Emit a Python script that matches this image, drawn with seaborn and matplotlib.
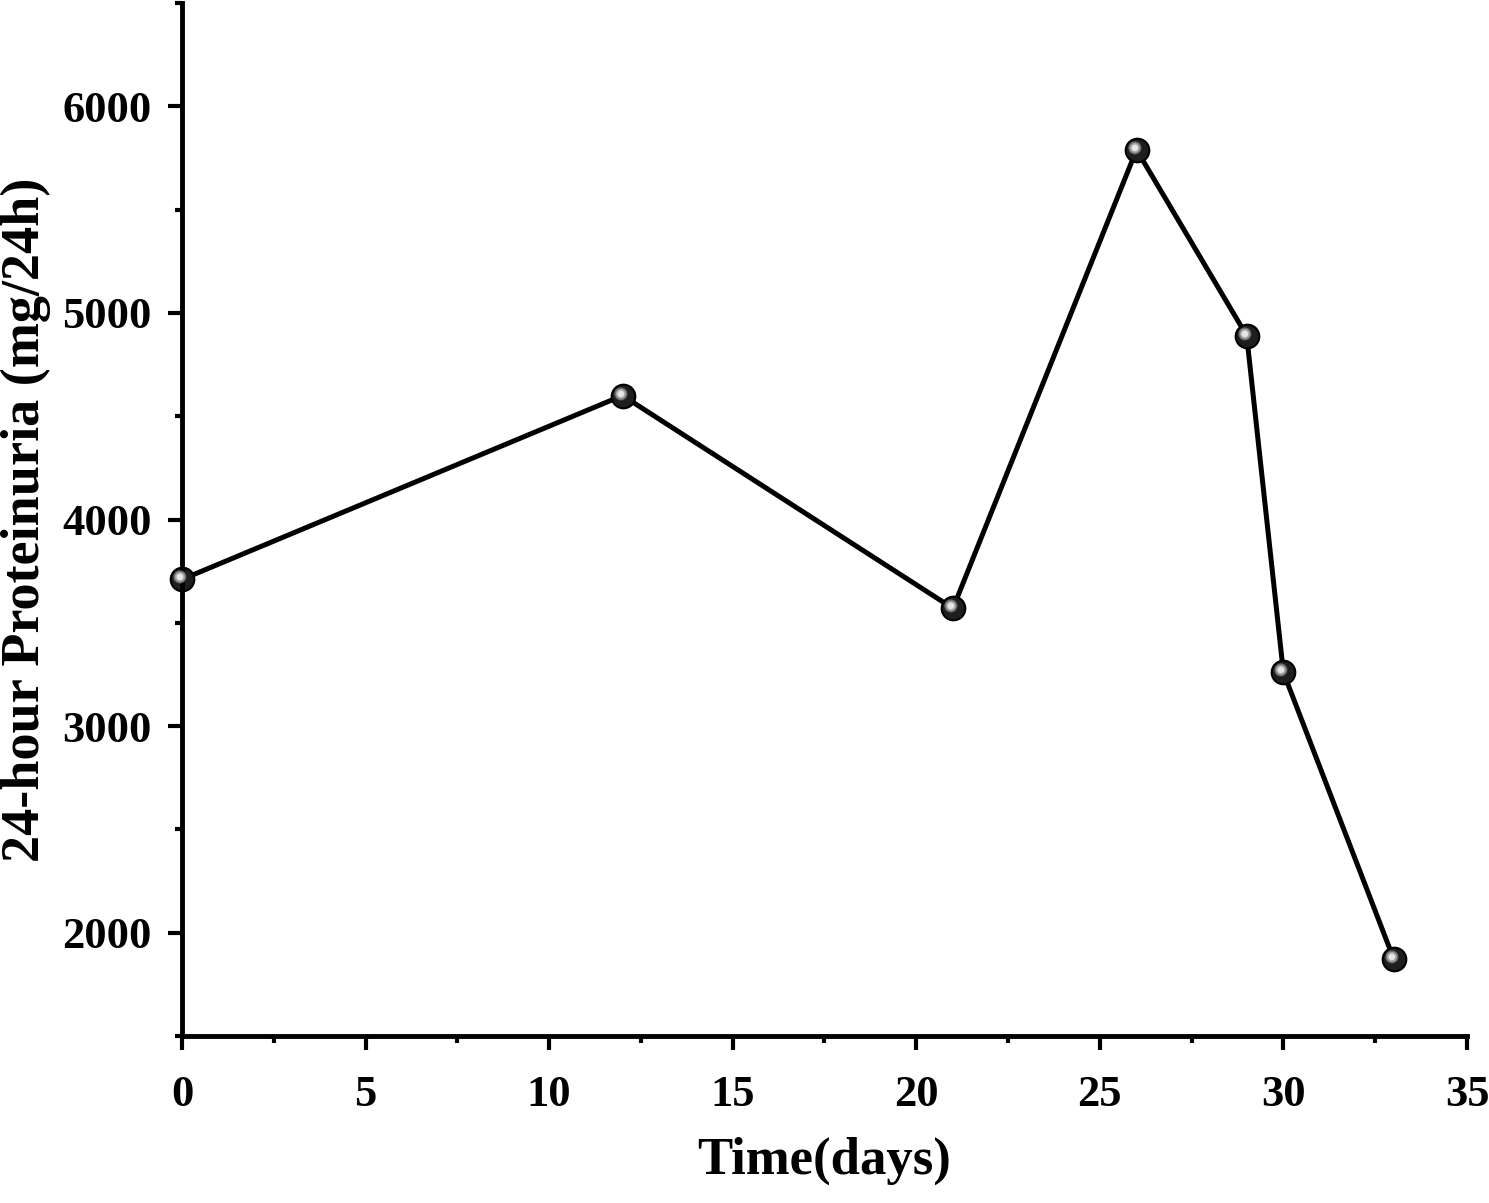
import matplotlib
matplotlib.use("Agg")
import matplotlib.pyplot as plt
import seaborn as sns
import pandas as pd
import numpy as np
from matplotlib.path import Path
from matplotlib.ticker import MultipleLocator

# data
days = [0, 12, 21, 26, 29, 30, 33]
proteinuria = [3710, 4600, 3570, 5790, 4890, 3260, 1875]

df = pd.DataFrame({"Time": days, "Proteinuria": proteinuria})

sns.set_theme(style="ticks")
plt.rcParams["font.family"] = ["Liberation Serif", "DejaVu Serif"]
plt.rcParams["font.weight"] = "bold"
plt.rcParams["text.color"] = "black"
plt.rcParams["axes.labelcolor"] = "black"
plt.rcParams["xtick.color"] = "black"
plt.rcParams["ytick.color"] = "black"
plt.rcParams["axes.edgecolor"] = "black"

fig = plt.figure(figsize=(14.89, 12.03), dpi=100)
ax = fig.add_axes([0.1222, 0.1388, 0.9852 - 0.1222, 0.9975 - 0.1388])

msize = 17
sns.lineplot(data=df, x="Time", y="Proteinuria", color="black", linewidth=3.6,
             marker="o", markersize=msize, markerfacecolor="#1e1e1e",
             markeredgecolor="black", markeredgewidth=1.5, ax=ax, clip_on=False)

# off-centre highlight so the markers look like shaded spheres
# (corner moveto points keep matplotlib's marker normalisation at unit scale)
circ = Path.unit_circle()
for scale, shade in [(0.55, "#6e6e6e"), (0.42, "#a8a8a8"), (0.28, "#e6e6e6")]:
    verts = np.vstack([[[-1, -1], [1, 1]], circ.vertices * scale + [-0.22, 0.22]])
    codes = np.concatenate([[Path.MOVETO, Path.MOVETO], circ.codes])
    shine = Path(verts, codes)
    ax.plot(df["Time"], df["Proteinuria"], linestyle="none", marker=shine,
            markersize=msize, markerfacecolor=shade, markeredgewidth=0,
            clip_on=False, zorder=5)

ax.set_xlim(0, 35)
ax.set_ylim(1500, 6500)
ax.xaxis.set_major_locator(MultipleLocator(5))
ax.xaxis.set_minor_locator(MultipleLocator(2.5))
ax.yaxis.set_major_locator(MultipleLocator(1000))
ax.yaxis.set_minor_locator(MultipleLocator(500))

ax.tick_params(axis="both", which="major", direction="out", length=10, width=3,
               labelsize=32, pad=12)
ax.tick_params(axis="x", which="major", pad=18)
ax.tick_params(axis="both", which="minor", direction="out", length=5, width=3)
for lab in ax.get_xticklabels() + ax.get_yticklabels():
    lab.set_fontweight("bold")

for side in ["left", "bottom"]:
    ax.spines[side].set_linewidth(3.5)
sns.despine(ax=ax)

ax.set_xlabel("Time(days)", fontsize=38, fontweight="bold", labelpad=16)
ax.set_ylabel("24-hour Proteinuria (mg/24h)", fontsize=39, fontweight="bold", labelpad=8)

fig.savefig("out.png", dpi=100)
